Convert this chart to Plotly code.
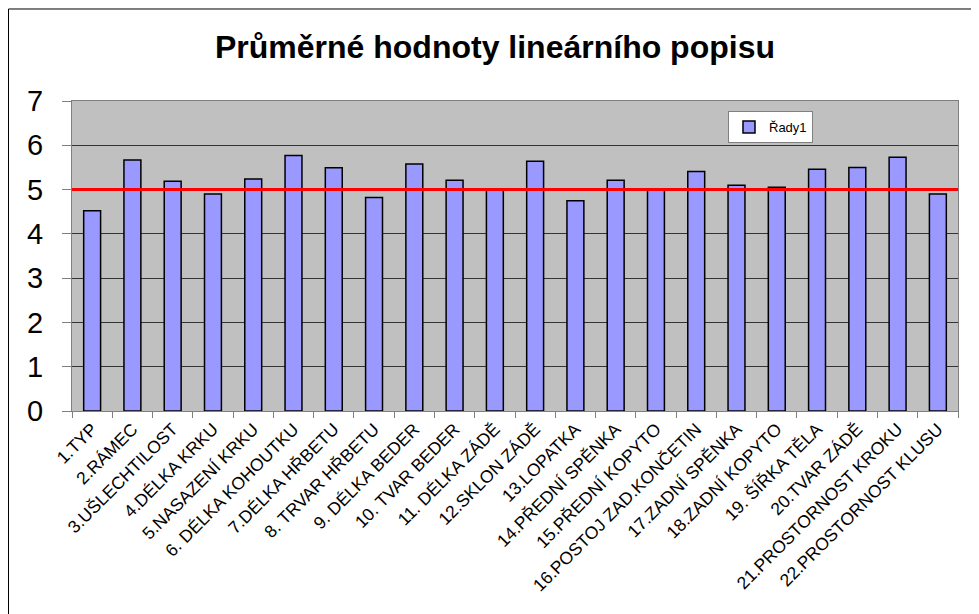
import plotly.graph_objects as go

categories = [
    "1.TYP", "2.RÁMEC", "3.UŠLECHTILOST", "4.DÉLKA KRKU", "5.NASAZENÍ KRKU",
    "6. DÉLKA KOHOUTKU", "7.DÉLKA HŘBETU", "8. TRVAR HŘBETU", "9. DÉLKA BEDER",
    "10. TVAR BEDER", "11. DÉLKA ZÁDĚ", "12.SKLON ZÁDĚ", "13.LOPATKA",
    "14.PŘEDNÍ SPĚNKA", "15.PŘEDNÍ KOPYTO", "16.POSTOJ ZAD.KONČETIN",
    "17.ZADNÍ SPĚNKA", "18.ZADNÍ KOPYTO", "19. ŠÍŘKA TĚLA", "20.TVAR ZÁDĚ",
    "21.PROSTORNOST KROKU", "22.PROSTORNOST KLUSU",
]
values = [4.52, 5.67, 5.19, 4.90, 5.24, 5.77, 5.49, 4.82, 5.58, 5.21, 4.99,
          5.64, 4.75, 5.21, 4.99, 5.41, 5.10, 5.05, 5.46, 5.50, 5.73, 4.90]
series_name = "Řady1"
reference_value = 5
title_text = "Průměrné hodnoty lineárního popisu"

FONT = "Arial, Liberation Sans, sans-serif"

fig = go.Figure()
fig.add_trace(go.Bar(
    x=categories, y=values, name=series_name,
    marker=dict(color="#9999FF", line=dict(color="#000000", width=1.5)),
    showlegend=True,
))

fig.add_shape(type="line", xref="paper", yref="y", x0=0, x1=1,
              y0=reference_value, y1=reference_value,
              line=dict(color="#FF0000", width=3), layer="above")

# outer chart border
fig.add_shape(type="rect", xref="paper", yref="paper",
              x0=-0.07167, x1=1.2, y0=-1.0, y1=1.2968,
              line=dict(color="#000000", width=1), layer="below")

fig.update_layout(
    width=971, height=606,
    margin=dict(l=64, r=21, t=93, b=203),
    paper_bgcolor="#FFFFFF", plot_bgcolor="#C0C0C0",
    bargap=0.58,
    font=dict(family=FONT, color="#000000"),
    title=dict(text="<b>" + title_text + "</b>", x=0.4774, xref="paper",
               xanchor="center", y=1 - 39 / 606, yanchor="middle",
               font=dict(size=32, family=FONT, color="#000000")),
    legend=dict(x=0.7404, y=0.9677, xanchor="left", yanchor="top",
                bgcolor="#FFFFFF", bordercolor="#808080", borderwidth=1,
                itemwidth=30, font=dict(size=13, family=FONT)),
    xaxis=dict(
        type="category", tickangle=-45, tickfont=dict(size=17.5, family=FONT),
        ticks="outside", ticklen=6, tickcolor="#808080", tickson="boundaries",
        showline=True, linecolor="#808080", linewidth=1, mirror=True,
        showgrid=False, automargin=False,
    ),
    yaxis=dict(
        range=[0, 7], dtick=1, tickfont=dict(size=29, family=FONT),
        ticks="outside", ticklen=9, tickcolor="#808080",
        showline=True, linecolor="#808080", linewidth=1, mirror=True,
        showgrid=True, gridcolor="#333333", gridwidth=1,
        zeroline=False, automargin=False, ticklabelstandoff=13,
    ),
)

fig.write_html("out.html")
